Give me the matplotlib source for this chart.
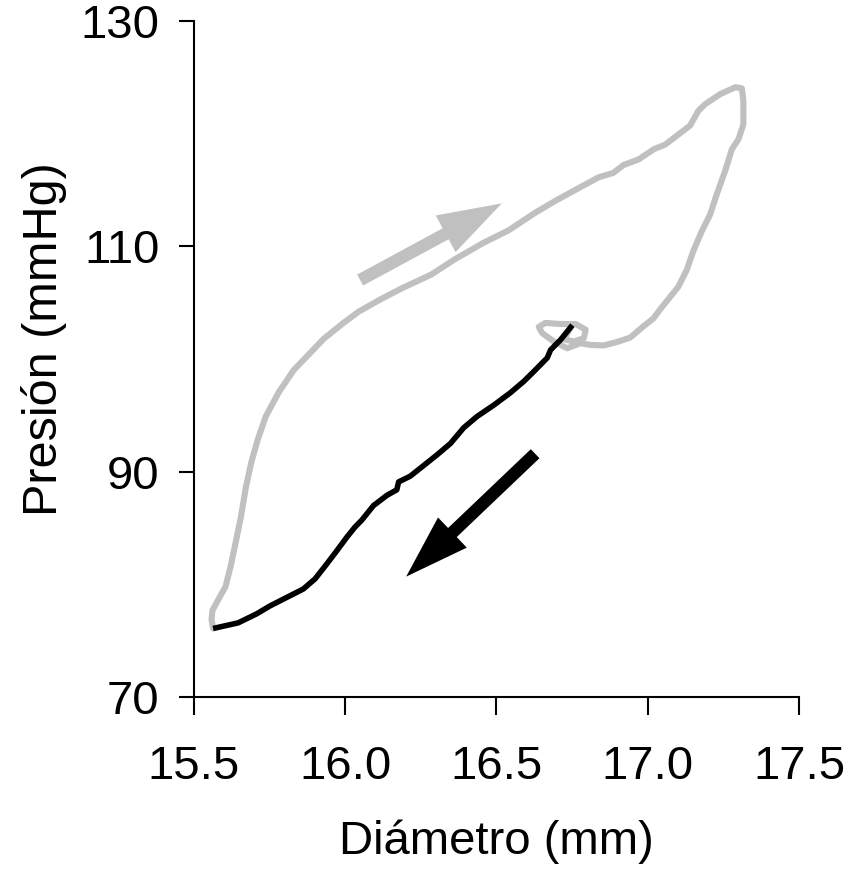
import matplotlib
matplotlib.use("Agg")
import matplotlib.pyplot as plt
from matplotlib.patches import FancyArrowPatch, ArrowStyle

plt.rcParams["font.family"] = ["Liberation Sans", "DejaVu Sans"]

# ===== DATA =====
# Filling / ejection limb (grey): diastolic foot -> peak -> end of cycle
GREY_DIAMETER = [
    15.564, 15.559, 15.562, 15.580, 15.605, 15.622, 15.640, 15.656, 15.673,
    15.690, 15.711, 15.738, 15.780, 15.830, 15.880, 15.930, 15.995, 16.045,
    16.118, 16.190, 16.286, 16.360, 16.457, 16.540, 16.630, 16.700, 16.775,
    16.837, 16.886, 16.920, 16.970, 17.020, 17.057, 17.106, 17.140, 17.167,
    17.190, 17.240, 17.290, 17.311, 17.316, 17.316, 17.300, 17.278, 17.256,
    17.228, 17.206, 17.178, 17.151, 17.129, 17.101, 17.074, 17.041, 17.019,
    16.986, 16.942, 16.898, 16.854, 16.810, 16.778, 16.734, 16.690, 16.651,
    16.640, 16.662, 16.712, 16.762, 16.795, 16.789, 16.756, 16.723, 16.750,
]
GREY_PRESSURE = [
    76.1, 76.9, 77.7, 78.6, 79.8, 81.6, 83.9, 86.0, 88.7,
    90.8, 92.8, 94.9, 97.0, 99.0, 100.4, 101.8, 103.2, 104.2,
    105.3, 106.3, 107.5, 108.8, 110.3, 111.4, 113.0, 114.1, 115.2,
    116.1, 116.5, 117.2, 117.7, 118.6, 119.0, 120.0, 120.7, 122.0,
    122.6, 123.5, 124.1, 124.0, 122.9, 120.8, 119.5, 118.6, 116.7,
    114.6, 112.8, 111.3, 109.6, 107.9, 106.4, 105.5, 104.4, 103.6,
    102.9, 101.9, 101.5, 101.2, 101.25, 101.4, 100.95, 101.55, 102.3,
    102.85, 103.2, 103.1, 103.1, 102.6, 101.85, 101.55, 101.75, 103.0,
]

# Relaxation limb (black): end of cycle back down to the diastolic foot
BLACK_DIAMETER = [
    16.751, 16.712, 16.679, 16.668, 16.624, 16.590, 16.546, 16.491, 16.436,
    16.392, 16.348, 16.304, 16.248, 16.215, 16.177, 16.171, 16.138, 16.094,
    16.055, 16.033, 16.006, 15.973, 15.939, 15.901, 15.862, 15.818, 15.752,
    15.708, 15.647, 15.597, 15.564,
]
BLACK_PRESSURE = [
    103.0, 101.7, 100.8, 100.1, 98.9, 98.0, 97.0, 95.9, 94.9,
    93.9, 92.5, 91.5, 90.3, 89.6, 89.1, 88.4, 87.9, 87.0,
    85.7, 85.1, 84.2, 83.0, 81.8, 80.5, 79.6, 79.0, 78.1,
    77.4, 76.6, 76.3, 76.1,
]

# Direction arrows (tail, tip) in data units
GREY_ARROW = ((16.05, 107.0), (16.518, 113.8))
BLACK_ARROW = ((16.628, 91.6), (16.202, 80.7))

X_TICKS = [15.5, 16.0, 16.5, 17.0, 17.5]
Y_TICKS = [70, 90, 110, 130]

GREY = "#C0C0C0"
BLACK = "#000000"
FONT_SIZE = 34


def direction_arrow(ax, tail, tip, color):
    style = ArrowStyle.Simple(head_length=46, head_width=30, tail_width=9)
    arrow = FancyArrowPatch(tail, tip, arrowstyle=style, mutation_scale=1,
                            color=color, lw=0, shrinkA=0, shrinkB=0, zorder=2)
    ax.add_patch(arrow)


def main() -> None:
    fig = plt.figure(figsize=(8.57, 8.69), dpi=100)
    ax = fig.add_axes([0.226, 0.1976, 0.7064, 0.7786])

    ax.plot(GREY_DIAMETER, GREY_PRESSURE, color=GREY, lw=4.4,
            solid_joinstyle="round", solid_capstyle="round", zorder=3)
    ax.plot(BLACK_DIAMETER, BLACK_PRESSURE, color=BLACK, lw=4.0,
            solid_joinstyle="round", solid_capstyle="butt", zorder=4)

    direction_arrow(ax, *GREY_ARROW, GREY)
    direction_arrow(ax, *BLACK_ARROW, BLACK)

    ax.set_xlim(15.5, 17.5)
    ax.set_ylim(70, 130)
    ax.set_xticks(X_TICKS)
    ax.set_xticklabels([f"{t:.1f}" for t in X_TICKS])
    ax.set_yticks(Y_TICKS)
    ax.set_yticklabels([str(t) for t in Y_TICKS])

    for side in ("top", "right"):
        ax.spines[side].set_visible(False)
    for side in ("left", "bottom"):
        ax.spines[side].set_linewidth(1.5)
        ax.spines[side].set_color(BLACK)

    ax.tick_params(axis="x", direction="out", length=13, width=1.5,
                   labelsize=FONT_SIZE, pad=21)
    ax.tick_params(axis="y", direction="out", length=10.5, width=1.5,
                   labelsize=FONT_SIZE, pad=14)

    ax.set_xlabel("Diámetro (mm)", fontsize=FONT_SIZE, labelpad=22)
    ax.set_ylabel("Presión (mmHg)", fontsize=35, labelpad=10)
    # the axis title sits a little above the middle of the axis
    ax.yaxis.label.set_y(0.53)

    fig.savefig("out.png", dpi=100, facecolor="white")


if __name__ == "__main__":
    main()
